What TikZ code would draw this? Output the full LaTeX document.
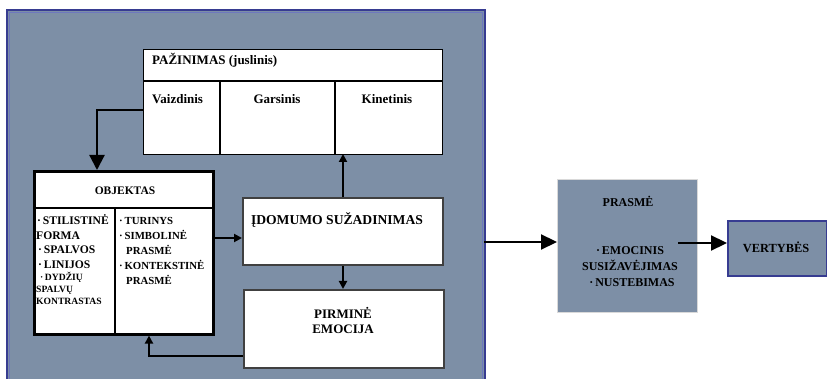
\documentclass[tikz,border=0pt]{standalone}
\usepackage{fontspec}
\setmainfont{Liberation Serif}
\usetikzlibrary{arrows.meta}
\definecolor{panel}{RGB}{125,143,166}
\definecolor{rim}{RGB}{55,60,145}
\definecolor{rimlight}{RGB}{110,120,190}
\begin{document}
\begin{tikzpicture}[x=1pt,y=-1pt,
  whitebox/.style={draw=black,fill=white,line width=1.2pt,inner sep=0pt,anchor=north west},
  conn/.style={line width=2.2pt,-{Triangle[length=8pt,width=8pt]}},
  bigconn/.style={line width=2.2pt,-{Triangle[length=16pt,width=15pt]}},
  head/.style={font=\bfseries\fontsize{13}{15}\selectfont,inner sep=0pt,anchor=base},
  item/.style={font=\bfseries\fontsize{10.8}{12}\selectfont,inner sep=0pt,anchor=base west},
  smallitem/.style={font=\bfseries\fontsize{9.6}{11}\selectfont,inner sep=0pt,anchor=base west}]
\useasboundingbox (0,0) rectangle (827,379);

% background panel with double blue rim
\fill[panel] (7,10) rectangle (485,390);
\draw[rim,line width=2pt] (7,10) rectangle (485,390);
\draw[rimlight,line width=1.2pt] (9.5,12.5) rectangle (482.5,390);

% PAZINIMAS table
\node[whitebox,minimum width=299pt,minimum height=105pt] (paz) at (143,49) {};
\draw[line width=1.2pt] (143,81) -- (442,81);
\draw[line width=1.2pt] (220,81) -- (220,154);
\draw[line width=1.2pt] (335,81) -- (335,154);
\node[head,anchor=base west] (pazt) at (152,65) {PAŽINIMAS (juslinis)};
\node[head,anchor=base west] (vaiz) at (152,104) {Vaizdinis};
\node[head] (gars) at (277,104) {Garsinis};
\node[head] (kin) at (387,104) {Kinetinis};

% OBJEKTAS box
\node[whitebox,line width=2.6pt,minimum width=179pt,minimum height=163pt] (obj) at (33,170) {};
\draw[line width=1.2pt] (33,208) -- (212,208);
\draw[line width=1.2pt] (115,208) -- (115,333);
\node[head,font=\bfseries\fontsize{11.5}{13}\selectfont] (objt) at (125,195) {OBJEKTAS};
\node[item,font=\bfseries\fontsize{11.6}{13}\selectfont] (l1) at (37,225) {·\,STILISTINĖ};
\node[item,font=\bfseries\fontsize{11.6}{13}\selectfont] (l2) at (36,240) {FORMA};
\node[item,font=\bfseries\fontsize{11.6}{13}\selectfont] (l3) at (38,254) {·\,SPALVOS};
\node[item,font=\bfseries\fontsize{11.6}{13}\selectfont] (l4) at (38,269) {·\,LINIJOS};
\node[smallitem] (l5) at (40,281) {·\,DYDŽIŲ};
\node[smallitem] (l6) at (36,293) {SPALVŲ};
\node[smallitem] (l7) at (36,305) {KONTRASTAS};
\node[item] (r1) at (119,225) {·\,TURINYS};
\node[item] (r2) at (119,240) {·\,SIMBOLINĖ};
\node[item] (r3) at (126,255) {PRASMĖ};
\node[item] (r4) at (119,270) {·\,KONTEKSTINĖ};
\node[item] (r5) at (126,285) {PRASMĖ};

% IDOMUMO and PIRMINE boxes
\node[whitebox,draw=black!75,line width=2pt,minimum width=200pt,minimum height=67pt] (ido) at (242,197) {};
\node[head,font=\bfseries\fontsize{13.6}{15}\selectfont] (idot) at (337,225) {ĮDOMUMO SUŽADINIMAS};
\node[whitebox,draw=black!75,line width=2pt,minimum width=200pt,minimum height=78pt] (pir) at (243,289) {};
\node[head] (pir1) at (343,318) {PIRMINĖ};
\node[head] (pir2) at (343,334) {EMOCIJA};

% right-hand boxes
\node[fill=panel,draw=black!15,line width=0.5pt,inner sep=0pt,anchor=north west,minimum width=140pt,minimum height=133pt] (pra) at (557,179) {};
\node[head,font=\bfseries\fontsize{12}{14}\selectfont] (prat) at (628,207) {PRASMĖ};
\node[head,font=\bfseries\fontsize{12}{14}\selectfont] (pra1) at (630,255) {·\,EMOCINIS};
\node[head,font=\bfseries\fontsize{12}{14}\selectfont] (pra2) at (630,271) {SUSIŽAVĖJIMAS};
\node[head,font=\bfseries\fontsize{12}{14}\selectfont] (pra3) at (632,287) {·\,NUSTEBIMAS};
\node[fill=panel,draw=rim,line width=2pt,inner sep=0pt,anchor=north west,minimum width=99pt,minimum height=55pt] (ver) at (727,220) {};
\node[head,font=\bfseries\fontsize{12.4}{14}\selectfont] (vert) at (776,253) {VERTYBĖS};

% connectors
\coordinate (c1) at (97,110);
\draw[line width=2.2pt,-{Triangle[length=15pt,width=15pt]}] (paz.west |- c1) -- (c1) -- (c1 |- obj.north);
\draw[conn] (ido.north -| 343,0) -- (343,154);
\draw[conn] (obj.east |- 0,238) -- (ido.west |- 0,238);
\draw[conn] (ido.south -| 343,0) -- (pir.north -| 343,0);
\coordinate (c2) at (149,356);
\draw[conn] (pir.west |- c2) -- (c2) -- (c2 |- obj.south);
\coordinate (c3) at (484,242);
\draw[bigconn] (c3) -- (pra.west |- c3);
\coordinate (c4) at (678,243);
\draw[bigconn] (c4) -- (ver.west |- c4);
\end{tikzpicture}
\end{document}
